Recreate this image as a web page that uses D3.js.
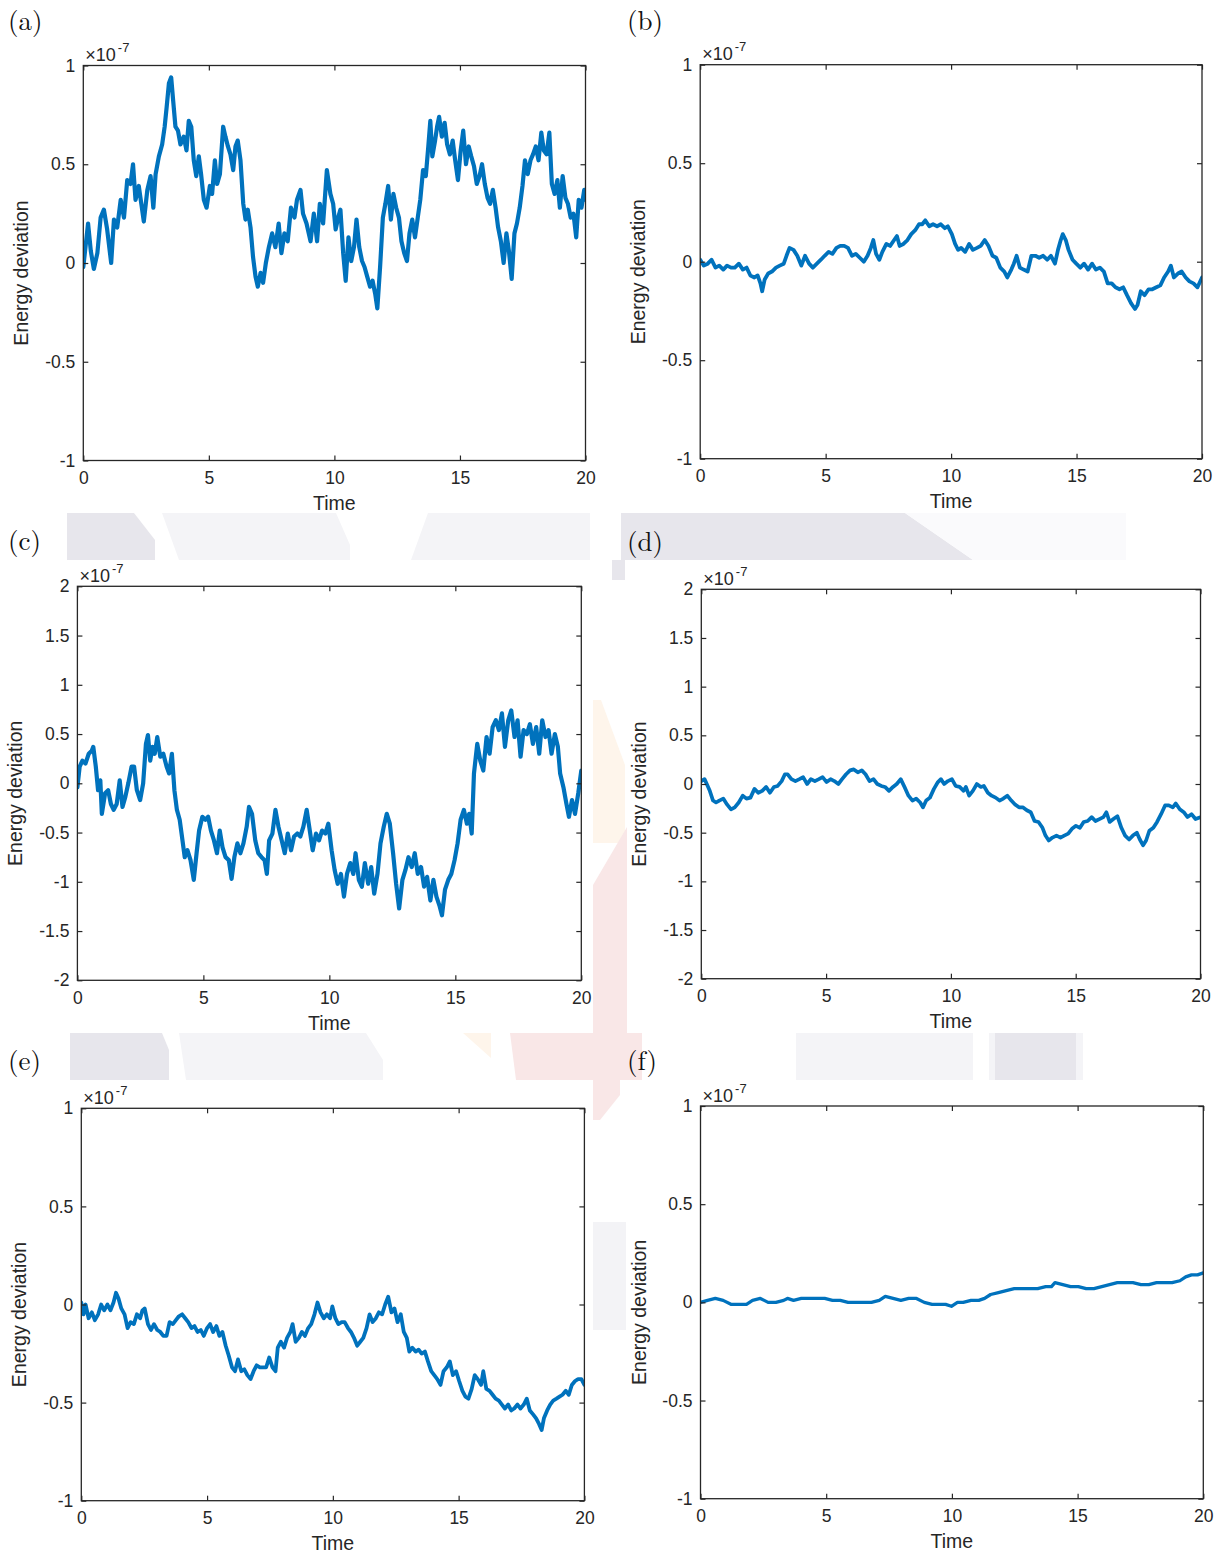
<!DOCTYPE html>
<html>
<head>
<meta charset="utf-8">
<script src="https://cdn.jsdelivr.net/npm/d3@7"></script>
<style>
  html, body { margin: 0; padding: 0; background: #ffffff; }
  svg { display: block; }
</style>
</head>
<body>
<svg id="fig" width="1222" height="1557"></svg>
<script>
// ---- tick values ----------------------------------------------------------
const timeTicks = [0, 5, 10, 15, 20];
const devTicksUnit = [-1, -0.5, 0, 0.5, 1];
const devTicksDouble = [-2, -1.5, -1, -0.5, 0, 0.5, 1, 1.5, 2];

// ---- energy deviation traces, [time, deviation / 1e-7] --------------------
const seriesA = [[0,-0.02],[0.19,0.2],[0.3,0.06],[0.42,-0.03],[0.56,0.05],[0.69,0.23],[0.82,0.27],[0.95,0.17],[1.11,0.0],[1.22,0.22],[1.35,0.18],[1.49,0.32],[1.62,0.23],[1.75,0.42],[1.88,0.40],[1.98,0.50],[2.08,0.32],[2.21,0.39],[2.31,0.30],[2.41,0.21],[2.55,0.37],[2.68,0.44],[2.79,0.28],[2.88,0.45],[3.01,0.54],[3.14,0.60],[3.24,0.69],[3.32,0.79],[3.41,0.91],[3.5,0.94],[3.58,0.82],[3.67,0.69],[3.77,0.67],[3.87,0.60],[4.0,0.64],[4.11,0.57],[4.2,0.72],[4.3,0.69],[4.4,0.52],[4.5,0.44],[4.6,0.54],[4.69,0.45],[4.8,0.32],[4.91,0.28],[5.04,0.39],[5.13,0.35],[5.24,0.52],[5.33,0.40],[5.44,0.45],[5.57,0.69],[5.66,0.64],[5.76,0.59],[5.86,0.55],[5.97,0.47],[6.06,0.59],[6.15,0.62],[6.26,0.52],[6.37,0.30],[6.46,0.22],[6.55,0.27],[6.66,0.18],[6.76,0.03],[6.86,-0.07],[6.95,-0.12],[7.06,-0.05],[7.16,-0.10],[7.27,0.0],[7.39,0.08],[7.52,0.15],[7.65,0.08],[7.78,0.20],[7.89,0.05],[8.01,0.15],[8.14,0.11],[8.27,0.28],[8.41,0.23],[8.51,0.32],[8.65,0.37],[8.75,0.25],[8.89,0.20],[9.05,0.11],[9.18,0.25],[9.31,0.11],[9.42,0.30],[9.55,0.20],[9.7,0.47],[9.84,0.35],[9.95,0.30],[10.05,0.17],[10.15,0.23],[10.24,0.27],[10.35,0.05],[10.45,-0.09],[10.56,0.13],[10.67,0.01],[10.78,0.08],[10.88,0.22],[10.99,0.08],[11.1,0.01],[11.2,-0.02],[11.31,-0.07],[11.42,-0.12],[11.52,-0.09],[11.63,-0.16],[11.71,-0.23],[11.82,-0.02],[11.93,0.23],[12.03,0.30],[12.14,0.39],[12.25,0.22],[12.35,0.35],[12.46,0.28],[12.57,0.23],[12.67,0.11],[12.78,0.05],[12.89,0.01],[12.99,0.15],[13.1,0.22],[13.21,0.13],[13.32,0.23],[13.42,0.32],[13.53,0.47],[13.64,0.44],[13.74,0.59],[13.82,0.72],[13.9,0.54],[14.01,0.62],[14.09,0.69],[14.17,0.74],[14.28,0.64],[14.39,0.71],[14.49,0.60],[14.6,0.55],[14.71,0.62],[14.81,0.52],[14.92,0.42],[15.03,0.57],[15.13,0.67],[15.24,0.50],[15.35,0.59],[15.45,0.54],[15.56,0.49],[15.67,0.40],[15.78,0.44],[15.88,0.50],[15.99,0.40],[16.1,0.33],[16.2,0.30],[16.31,0.37],[16.42,0.28],[16.52,0.18],[16.63,0.11],[16.74,0.0],[16.85,0.15],[16.95,0.06],[17.06,-0.08],[17.17,0.15],[17.27,0.20],[17.38,0.28],[17.49,0.39],[17.59,0.52],[17.7,0.45],[17.81,0.52],[17.91,0.55],[18.02,0.59],[18.13,0.52],[18.24,0.66],[18.34,0.57],[18.45,0.55],[18.56,0.66],[18.66,0.40],[18.77,0.35],[18.88,0.42],[18.98,0.28],[19.09,0.44],[19.2,0.33],[19.3,0.30],[19.41,0.23],[19.52,0.25],[19.63,0.13],[19.73,0.32],[19.84,0.28],[19.95,0.37],[20,0.32]];

const seriesB = [[0,0.01],[0.14,-0.02],[0.3,-0.01],[0.45,0.01],[0.61,-0.03],[0.76,-0.02],[0.92,-0.04],[1.07,-0.02],[1.23,-0.03],[1.38,-0.03],[1.54,-0.01],[1.7,-0.04],[1.85,-0.03],[2.0,-0.07],[2.16,-0.08],[2.29,-0.07],[2.4,-0.11],[2.47,-0.15],[2.57,-0.09],[2.71,-0.06],[2.86,-0.05],[3.02,-0.03],[3.17,-0.02],[3.33,-0.01],[3.44,0.03],[3.56,0.07],[3.72,0.06],[3.87,0.03],[4.03,-0.02],[4.18,0.03],[4.34,-0.01],[4.49,-0.03],[4.65,-0.01],[4.81,0.01],[4.96,0.03],[5.12,0.05],[5.27,0.04],[5.43,0.07],[5.58,0.08],[5.74,0.08],[5.89,0.07],[6.05,0.03],[6.2,0.04],[6.36,0.02],[6.52,0.0],[6.67,0.03],[6.8,0.07],[6.9,0.11],[7.01,0.04],[7.14,0.01],[7.26,0.05],[7.42,0.09],[7.57,0.08],[7.73,0.11],[7.84,0.13],[7.95,0.08],[8.1,0.09],[8.26,0.11],[8.41,0.14],[8.57,0.16],[8.72,0.19],[8.85,0.19],[8.97,0.21],[9.13,0.18],[9.28,0.19],[9.44,0.18],[9.59,0.19],[9.75,0.17],[9.87,0.18],[10.03,0.14],[10.16,0.09],[10.28,0.06],[10.4,0.07],[10.56,0.05],[10.72,0.09],[10.87,0.06],[11.03,0.07],[11.18,0.08],[11.34,0.11],[11.49,0.08],[11.65,0.03],[11.8,0.02],[11.96,-0.03],[12.12,-0.05],[12.24,-0.08],[12.4,-0.04],[12.5,-0.01],[12.61,0.03],[12.74,-0.03],[12.89,-0.04],[13.05,-0.05],[13.2,0.03],[13.36,0.03],[13.51,0.02],[13.67,0.03],[13.83,0.01],[13.98,0.03],[14.14,-0.01],[14.26,0.06],[14.37,0.11],[14.45,0.14],[14.57,0.11],[14.68,0.06],[14.84,0.01],[14.99,-0.01],[15.15,-0.03],[15.3,-0.01],[15.46,-0.04],[15.62,-0.01],[15.77,-0.04],[15.93,-0.03],[16.09,-0.05],[16.24,-0.11],[16.4,-0.11],[16.55,-0.13],[16.71,-0.14],[16.86,-0.13],[17.01,-0.17],[17.17,-0.21],[17.33,-0.24],[17.43,-0.22],[17.56,-0.15],[17.71,-0.17],[17.87,-0.14],[18.02,-0.14],[18.18,-0.13],[18.34,-0.12],[18.49,-0.08],[18.65,-0.05],[18.76,-0.02],[18.88,-0.08],[19.04,-0.06],[19.19,-0.05],[19.35,-0.08],[19.5,-0.1],[19.66,-0.11],[19.82,-0.13],[20,-0.08]];

const seriesC = [[0,-0.04],[0.09,0.17],[0.2,0.23],[0.32,0.2],[0.45,0.3],[0.57,0.33],[0.63,0.37],[0.73,0.17],[0.82,-0.07],[0.91,0.03],[0.97,-0.31],[1.1,-0.1],[1.22,-0.07],[1.33,-0.21],[1.44,-0.27],[1.56,-0.21],[1.68,0.03],[1.79,-0.24],[1.9,-0.14],[2.02,0.0],[2.15,0.17],[2.25,0.17],[2.36,-0.07],[2.49,-0.17],[2.61,0.0],[2.72,0.4],[2.8,0.49],[2.89,0.23],[2.98,0.37],[3.07,0.3],[3.17,0.47],[3.29,0.27],[3.41,0.3],[3.54,0.17],[3.64,0.1],[3.75,0.3],[3.85,-0.07],[3.95,-0.27],[4.06,-0.37],[4.15,-0.54],[4.26,-0.75],[4.37,-0.68],[4.49,-0.78],[4.62,-0.98],[4.73,-0.71],[4.83,-0.48],[4.96,-0.34],[5.08,-0.37],[5.19,-0.34],[5.3,-0.48],[5.42,-0.58],[5.54,-0.71],[5.65,-0.48],[5.76,-0.65],[5.88,-0.75],[6.01,-0.78],[6.12,-0.97],[6.23,-0.75],[6.35,-0.61],[6.47,-0.71],[6.59,-0.61],[6.72,-0.44],[6.81,-0.24],[6.93,-0.31],[7.06,-0.58],[7.18,-0.71],[7.31,-0.75],[7.43,-0.78],[7.52,-0.92],[7.61,-0.58],[7.74,-0.51],[7.86,-0.27],[7.98,-0.44],[8.11,-0.58],[8.23,-0.71],[8.35,-0.51],[8.48,-0.68],[8.6,-0.54],[8.73,-0.51],[8.85,-0.54],[8.97,-0.44],[9.1,-0.27],[9.2,-0.44],[9.34,-0.68],[9.47,-0.51],[9.59,-0.58],[9.71,-0.48],[9.84,-0.51],[9.96,-0.41],[10.09,-0.68],[10.21,-0.88],[10.33,-1.02],[10.46,-0.92],[10.58,-1.15],[10.7,-0.92],[10.83,-0.81],[10.95,-0.92],[11.04,-0.71],[11.17,-0.98],[11.29,-1.05],[11.41,-0.81],[11.54,-1.02],[11.66,-0.85],[11.78,-1.12],[11.91,-0.92],[12.03,-0.61],[12.16,-0.44],[12.28,-0.31],[12.4,-0.41],[12.53,-0.71],[12.65,-1.02],[12.77,-1.27],[12.9,-0.98],[13.02,-0.88],[13.14,-0.75],[13.27,-0.85],[13.39,-0.71],[13.51,-0.92],[13.64,-0.85],[13.76,-1.05],[13.88,-0.95],[14.01,-1.19],[14.13,-0.98],[14.25,-1.15],[14.38,-1.25],[14.47,-1.34],[14.59,-1.08],[14.72,-0.98],[14.84,-0.92],[14.97,-0.78],[15.09,-0.61],[15.21,-0.37],[15.34,-0.27],[15.46,-0.41],[15.55,-0.31],[15.65,-0.51],[15.74,0.1],[15.87,0.4],[15.99,0.23],[16.11,0.13],[16.24,0.47],[16.36,0.3],[16.48,0.57],[16.61,0.64],[16.73,0.54],[16.85,0.71],[16.97,0.37],[17.1,0.64],[17.22,0.74],[17.35,0.47],[17.47,0.64],[17.59,0.27],[17.71,0.54],[17.84,0.5],[17.96,0.6],[18.08,0.4],[18.21,0.57],[18.33,0.3],[18.45,0.64],[18.58,0.47],[18.7,0.54],[18.82,0.3],[18.95,0.5],[19.07,0.37],[19.16,0.1],[19.29,-0.04],[19.41,-0.21],[19.51,-0.34],[19.63,-0.17],[19.75,-0.31],[19.88,-0.1],[20,0.13]];

const seriesD = [[0,0.03],[0.13,0.05],[0.22,0.0],[0.34,-0.07],[0.47,-0.17],[0.59,-0.19],[0.72,-0.17],[0.88,-0.15],[1.03,-0.21],[1.19,-0.26],[1.34,-0.24],[1.5,-0.19],[1.66,-0.12],[1.81,-0.15],[1.97,-0.14],[2.13,-0.05],[2.28,-0.09],[2.44,-0.07],[2.6,-0.03],[2.75,-0.09],[2.91,-0.03],[3.06,-0.02],[3.22,0.03],[3.35,0.1],[3.46,0.1],[3.61,0.05],[3.77,0.03],[3.93,0.05],[4.08,0.07],[4.24,0.0],[4.39,0.05],[4.55,0.03],[4.71,0.05],[4.86,0.07],[5.02,0.02],[5.18,0.05],[5.33,0.03],[5.49,0.0],[5.64,0.05],[5.8,0.1],[5.96,0.14],[6.11,0.15],[6.27,0.12],[6.43,0.14],[6.58,0.1],[6.74,0.03],[6.9,0.05],[7.05,0.0],[7.21,-0.02],[7.36,-0.03],[7.52,-0.07],[7.68,-0.03],[7.83,0.0],[7.99,0.05],[8.14,-0.03],[8.3,-0.12],[8.46,-0.17],[8.61,-0.15],[8.77,-0.19],[8.88,-0.24],[9.01,-0.17],[9.16,-0.14],[9.32,-0.05],[9.48,0.02],[9.6,0.05],[9.73,0.0],[9.88,0.03],[10.04,0.05],[10.19,-0.02],[10.35,-0.03],[10.51,-0.07],[10.6,-0.03],[10.73,-0.12],[10.88,-0.07],[11.04,0.0],[11.2,-0.03],[11.32,-0.02],[11.48,-0.09],[11.63,-0.12],[11.79,-0.14],[11.95,-0.17],[12.1,-0.15],[12.26,-0.12],[12.42,-0.17],[12.57,-0.21],[12.73,-0.24],[12.88,-0.24],[13.04,-0.27],[13.2,-0.29],[13.35,-0.38],[13.51,-0.39],[13.67,-0.45],[13.79,-0.53],[13.92,-0.58],[14.07,-0.55],[14.23,-0.53],[14.39,-0.55],[14.54,-0.53],[14.7,-0.51],[14.85,-0.46],[15.01,-0.43],[15.17,-0.45],[15.32,-0.39],[15.48,-0.38],[15.64,-0.34],[15.79,-0.38],[15.95,-0.36],[16.11,-0.34],[16.23,-0.29],[16.36,-0.39],[16.51,-0.36],[16.67,-0.33],[16.83,-0.45],[16.98,-0.53],[17.14,-0.57],[17.29,-0.53],[17.45,-0.5],[17.57,-0.57],[17.7,-0.63],[17.82,-0.58],[17.95,-0.48],[18.11,-0.45],[18.26,-0.39],[18.42,-0.31],[18.58,-0.22],[18.73,-0.22],[18.89,-0.24],[19.01,-0.2],[19.17,-0.26],[19.33,-0.29],[19.48,-0.34],[19.64,-0.31],[19.8,-0.36],[20,-0.34]];

const seriesE = [[0,0.01],[0.09,-0.05],[0.17,0.0],[0.29,-0.07],[0.42,-0.04],[0.54,-0.08],[0.67,-0.05],[0.79,0.0],[0.91,-0.03],[1.04,0.0],[1.16,-0.03],[1.28,0.01],[1.38,0.06],[1.48,0.03],[1.59,-0.02],[1.72,-0.05],[1.84,-0.12],[1.96,-0.09],[2.09,-0.1],[2.21,-0.05],[2.34,-0.07],[2.43,-0.03],[2.52,-0.02],[2.65,-0.1],[2.77,-0.13],[2.89,-0.1],[3.02,-0.13],[3.14,-0.14],[3.26,-0.16],[3.39,-0.16],[3.51,-0.09],[3.64,-0.1],[3.76,-0.08],[3.88,-0.06],[4.01,-0.05],[4.13,-0.07],[4.25,-0.09],[4.38,-0.12],[4.5,-0.11],[4.62,-0.14],[4.75,-0.13],[4.87,-0.16],[5.0,-0.12],[5.12,-0.1],[5.24,-0.14],[5.37,-0.11],[5.49,-0.16],[5.61,-0.14],[5.74,-0.21],[5.86,-0.26],[5.99,-0.32],[6.11,-0.34],[6.23,-0.28],[6.36,-0.34],[6.48,-0.33],[6.6,-0.36],[6.73,-0.38],[6.85,-0.34],[6.97,-0.31],[7.1,-0.32],[7.22,-0.32],[7.35,-0.32],[7.47,-0.27],[7.6,-0.32],[7.72,-0.34],[7.81,-0.22],[7.93,-0.19],[8.06,-0.22],[8.18,-0.17],[8.31,-0.14],[8.4,-0.1],[8.52,-0.19],[8.65,-0.17],[8.77,-0.14],[8.89,-0.16],[9.02,-0.12],[9.14,-0.1],[9.27,-0.05],[9.39,0.01],[9.51,-0.04],[9.64,-0.07],[9.76,-0.05],[9.89,-0.07],[9.98,-0.01],[10.1,-0.07],[10.22,-0.1],[10.35,-0.09],[10.47,-0.09],[10.6,-0.12],[10.72,-0.14],[10.84,-0.17],[10.97,-0.21],[11.09,-0.19],[11.21,-0.17],[11.34,-0.12],[11.46,-0.05],[11.58,-0.09],[11.71,-0.07],[11.83,-0.04],[11.96,-0.05],[12.08,0.0],[12.2,0.04],[12.33,-0.04],[12.45,-0.02],[12.57,-0.09],[12.7,-0.05],[12.82,-0.14],[12.94,-0.17],[13.04,-0.24],[13.16,-0.22],[13.29,-0.24],[13.41,-0.23],[13.53,-0.25],[13.66,-0.24],[13.78,-0.29],[13.91,-0.34],[14.03,-0.36],[14.15,-0.38],[14.28,-0.41],[14.4,-0.34],[14.53,-0.32],[14.65,-0.29],[14.77,-0.36],[14.9,-0.34],[15.02,-0.39],[15.15,-0.44],[15.27,-0.47],[15.39,-0.48],[15.52,-0.43],[15.64,-0.36],[15.76,-0.38],[15.89,-0.41],[15.98,-0.34],[16.1,-0.43],[16.23,-0.44],[16.35,-0.46],[16.47,-0.48],[16.6,-0.49],[16.72,-0.51],[16.84,-0.53],[16.97,-0.51],[17.09,-0.54],[17.21,-0.53],[17.34,-0.51],[17.46,-0.53],[17.59,-0.51],[17.71,-0.48],[17.83,-0.54],[17.96,-0.56],[18.08,-0.58],[18.2,-0.61],[18.3,-0.64],[18.39,-0.58],[18.52,-0.54],[18.64,-0.51],[18.76,-0.49],[18.89,-0.48],[19.01,-0.47],[19.13,-0.46],[19.26,-0.44],[19.38,-0.46],[19.5,-0.41],[19.63,-0.39],[19.75,-0.38],[19.88,-0.38],[20,-0.41]];

const seriesF = [[0,0.0],[0.28,0.01],[0.59,0.02],[0.9,0.01],[1.21,-0.01],[1.52,-0.01],[1.83,-0.01],[2.07,0.01],[2.38,0.02],[2.69,0.0],[3.0,0.0],[3.31,0.01],[3.46,0.02],[3.7,0.01],[4.01,0.02],[4.32,0.02],[4.63,0.02],[4.94,0.02],[5.25,0.01],[5.56,0.01],[5.87,0.0],[6.18,0.0],[6.49,0.0],[6.8,0.0],[7.11,0.01],[7.35,0.03],[7.66,0.02],[7.97,0.01],[8.28,0.02],[8.59,0.02],[8.9,0.0],[9.21,-0.01],[9.52,-0.01],[9.75,-0.01],[9.98,-0.02],[10.22,0.0],[10.45,0.0],[10.76,0.01],[11.07,0.01],[11.3,0.02],[11.54,0.04],[11.85,0.05],[12.16,0.06],[12.48,0.07],[12.79,0.07],[13.1,0.07],[13.41,0.07],[13.73,0.08],[13.96,0.08],[14.1,0.1],[14.41,0.09],[14.72,0.08],[15.03,0.08],[15.34,0.07],[15.65,0.07],[15.96,0.08],[16.27,0.09],[16.58,0.1],[16.89,0.1],[17.2,0.1],[17.52,0.09],[17.83,0.09],[18.14,0.1],[18.45,0.1],[18.76,0.1],[19.07,0.11],[19.3,0.13],[19.53,0.14],[19.77,0.14],[20,0.15]];

// ---- layout of the six axes (pixel frame of each plot box) ----------------
const panels = [
  { tag: "(a)", series: seriesA, yMax: 1, yTicks: devTicksUnit,   box: { l: 83.3,  t: 65.5,   r: 585.5,  b: 460.5 },  tagAt: [8, 30],     weight: 4.2 },
  { tag: "(b)", series: seriesB, yMax: 1, yTicks: devTicksUnit,   box: { l: 700.2, t: 64.7,   r: 1202,   b: 458.7 },  tagAt: [627, 30],   weight: 3.8 },
  { tag: "(c)", series: seriesC, yMax: 2, yTicks: devTicksDouble, box: { l: 77.4,  t: 586.3,  r: 581.3,  b: 980.3 },  tagAt: [8, 550],    weight: 4.2 },
  { tag: "(d)", series: seriesD, yMax: 2, yTicks: devTicksDouble, box: { l: 701.3, t: 589.3,  r: 1200.5, b: 978.7 },  tagAt: [627, 551],  weight: 3.7 },
  { tag: "(e)", series: seriesE, yMax: 1, yTicks: devTicksUnit,   box: { l: 81.3,  t: 1108.3, r: 584.4,  b: 1500.7 }, tagAt: [8, 1070],   weight: 3.8 },
  { tag: "(f)", series: seriesF, yMax: 1, yTicks: devTicksUnit,   box: { l: 700.5, t: 1106,   r: 1203.3, b: 1498.7 }, tagAt: [627, 1070], weight: 3.3 }
];

const INK = "#262626";
const LINE = "#0072BD";
const SANS = "'Liberation Sans', Arial, Helvetica, sans-serif";
const SERIF = "'Latin Modern Roman', 'Liberation Serif', 'Times New Roman', serif";
const TICK_FONT = 17.5;
const LABEL_FONT = 19.5;

const svg = d3.select("#fig");
svg.append("rect").attr("width", 1222).attr("height", 1557).attr("fill", "#ffffff");

// ---- faint printed backdrop patches between the rows ----------------------
const backdrop = [
  { fill: "#e7e6ec", pts: [[67,513],[134,513],[155,540],[155,560],[67,560]] },
  { fill: "#f4f4f7", pts: [[162,513],[336,513],[350,545],[350,560],[179,560]] },
  { fill: "#f4f4f7", pts: [[428,513],[590,513],[590,560],[411,560]] },
  { fill: "#e7e6ec", pts: [[621,513],[905,513],[973,560],[625,560],[625,580],[612,580],[612,560],[621,560]] },
  { fill: "#fafafc", pts: [[905,513],[1126,513],[1126,560],[973,560]] },
  { fill: "#fef5eb", pts: [[593,700],[601,700],[625,765],[625,843],[593,843]] },
  { fill: "#f9e7e7", pts: [[627,827],[627,1033],[642,1033],[642,1080],[620,1080],[620,1095],[600,1120],[593,1120],[593,1080],[516,1080],[510,1033],[593,1033],[593,885]] },
  { fill: "#fef5eb", pts: [[463,1033],[491,1033],[491,1058]] },
  { fill: "#e7e6ec", pts: [[70,1033],[162,1033],[169,1050],[169,1080],[70,1080]] },
  { fill: "#f4f4f7", pts: [[179,1033],[366,1033],[383,1060],[383,1080],[186,1080]] },
  { fill: "#f4f4f7", pts: [[796,1033],[973,1033],[973,1080],[796,1080]] },
  { fill: "#f4f4f7", pts: [[989,1033],[1083,1033],[1083,1080],[989,1080]] },
  { fill: "#e7e6ec", pts: [[995,1033],[1076,1033],[1076,1080],[995,1080]] },
  { fill: "#f3f3f6", pts: [[593,1222],[626,1222],[626,1330],[593,1330]] }
];
svg.append("g").attr("class", "backdrop")
  .selectAll("polygon").data(backdrop).join("polygon")
  .attr("points", d => d.pts.map(p => p.join(",")).join(" "))
  .attr("fill", d => d.fill);

// ---- one axes per panel ----------------------------------------------------
panels.forEach((p, i) => {
  const { l, t, r, b } = p.box;
  const x = d3.scaleLinear().domain([0, 20]).range([l, r]);
  const y = d3.scaleLinear().domain([-p.yMax, p.yMax]).range([b, t]);
  const g = svg.append("g").attr("class", "panel panel-" + i);

  const clipId = "clip" + i;
  g.append("clipPath").attr("id", clipId)
    .append("rect").attr("x", l).attr("y", t).attr("width", r - l).attr("height", b - t);

  // trace
  const line = d3.line().x(d => x(d[0])).y(d => y(d[1]));
  g.append("path")
    .datum(p.series)
    .attr("clip-path", `url(#${clipId})`)
    .attr("fill", "none")
    .attr("stroke", LINE)
    .attr("stroke-width", p.weight)
    .attr("stroke-linejoin", "round")
    .attr("stroke-linecap", "round")
    .attr("d", line);

  // bottom axis with labels, ticks pointing inward
  const bottom = g.append("g").attr("transform", `translate(0,${b})`)
    .call(d3.axisBottom(x).tickValues(timeTicks).tickSizeInner(-5).tickSizeOuter(0).tickPadding(11).tickFormat(d3.format("d")));
  // left axis with labels
  const left = g.append("g").attr("transform", `translate(${l},0)`)
    .call(d3.axisLeft(y).tickValues(p.yTicks).tickSizeInner(-5).tickSizeOuter(0).tickPadding(8).tickFormat(v => String(v)));
  // mirrored ticks on top and right
  const top = g.append("g").attr("transform", `translate(0,${t})`)
    .call(d3.axisTop(x).tickValues(timeTicks).tickSizeInner(-5).tickSizeOuter(0).tickFormat(""));
  const right = g.append("g").attr("transform", `translate(${r},0)`)
    .call(d3.axisRight(y).tickValues(p.yTicks).tickSizeInner(-5).tickSizeOuter(0).tickFormat(""));

  [bottom, left, top, right].forEach(ax => {
    ax.select(".domain").remove();
    ax.selectAll(".tick line").attr("stroke", INK).attr("stroke-width", 1.2);
    ax.selectAll(".tick text").attr("fill", INK).style("font-family", SANS).style("font-size", TICK_FONT + "px");
  });

  // frame
  g.append("rect")
    .attr("x", l).attr("y", t).attr("width", r - l).attr("height", b - t)
    .attr("fill", "none").attr("stroke", INK).attr("stroke-width", 1.3);

  // exponent note
  const note = g.append("text")
    .attr("x", l + 2).attr("y", t - 4.5)
    .attr("fill", INK).style("font-family", SANS).style("font-size", "18px");
  note.append("tspan").text("\u00d710");
  note.append("tspan").attr("dy", -9).attr("dx", 2).style("font-size", "13px").text("-7");

  // axis titles
  g.append("text")
    .attr("x", (l + r) / 2).attr("y", b + 49.5)
    .attr("text-anchor", "middle").attr("fill", INK)
    .style("font-family", SANS).style("font-size", LABEL_FONT + "px")
    .text("Time");
  g.append("text")
    .attr("transform", `translate(${l - 55},${(t + b) / 2 + 10}) rotate(-90)`)
    .attr("text-anchor", "middle").attr("fill", INK)
    .style("font-family", SANS).style("font-size", LABEL_FONT + "px")
    .text("Energy deviation");

  // panel tag
  svg.append("text")
    .attr("x", p.tagAt[0]).attr("y", p.tagAt[1])
    .attr("fill", "#111111")
    .style("font-family", SERIF).style("font-size", "27px")
    .text(p.tag);
});
</script>
</body>
</html>
